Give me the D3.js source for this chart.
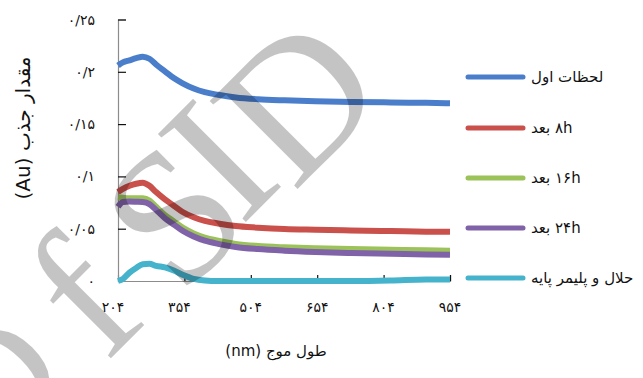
<!DOCTYPE html>
<html>
<head>
<meta charset="utf-8">
<script src="https://cdn.jsdelivr.net/npm/d3@7"></script>
<style>
  html, body { margin: 0; padding: 0; background: #fff; }
  svg { display: block; }
  .fa { font-family: "DejaVu Sans", "Noto Sans", sans-serif; }
</style>
</head>
<body>
<svg id="chart" width="643" height="378"></svg>
<script>
// Absorbance spectra (Au) against wavelength (nm)
const wavelengths = [204, 215, 230, 245, 260, 275, 290, 310, 330, 350, 375, 400, 430, 470, 520, 580, 650, 730, 820, 900, 954];

const seriesNames = ["لحظات اول", "۸h بعد", "۱۶h بعد", "۲۴h بعد", "حلال و پلیمر پایه"];
const seriesColors = ["#4a7ecb", "#c9504b", "#9cc25a", "#8062a8", "#46b3cc"];

const initial   = [0.206, 0.209, 0.211, 0.213, 0.2145, 0.2125, 0.207, 0.2005, 0.194, 0.189, 0.184, 0.1805, 0.178, 0.1755, 0.1738, 0.1727, 0.1718, 0.1712, 0.1707, 0.1703, 0.170];
const after8h   = [0.085, 0.088, 0.091, 0.093, 0.094, 0.091, 0.085, 0.078, 0.072, 0.066, 0.061, 0.0575, 0.055, 0.0525, 0.051, 0.0497, 0.049, 0.0483, 0.0477, 0.0472, 0.047];
const after16h  = [0.080, 0.0795, 0.079, 0.079, 0.079, 0.077, 0.071, 0.063, 0.057, 0.051, 0.0455, 0.0415, 0.0385, 0.0355, 0.0335, 0.0322, 0.0312, 0.0305, 0.0298, 0.0293, 0.029];
const after24h  = [0.071, 0.0755, 0.076, 0.0758, 0.0755, 0.0735, 0.068, 0.060, 0.054, 0.048, 0.0425, 0.0385, 0.0355, 0.0325, 0.0305, 0.029, 0.0278, 0.0268, 0.026, 0.0253, 0.025];
const solvent   = [0.000, 0.002, 0.008, 0.0125, 0.016, 0.0165, 0.0145, 0.013, 0.010, 0.006, 0.002, 0.0005, 0.000, 0.000, 0.000, 0.000, 0.000, 0.000, 0.0005, 0.0015, 0.0015];

const xTicks = [204, 354, 504, 654, 804, 954];
const xTickLabels = ["۲۰۴", "۳۵۴", "۵۰۴", "۶۵۴", "۸۰۴", "۹۵۴"];
const yTicks = [0, 0.05, 0.1, 0.15, 0.2, 0.25];
const yTickLabels = ["۰", "۰/۰۵", "۰/۱", "۰/۱۵", "۰/۲", "۰/۲۵"];

const xTitle = "طول موج (nm)";
const yTitle = "مقدار جذب (Au)";
const watermarkGlyphs = ["o", "f", "S", "I", "D"];

const allSeries = [initial, after8h, after16h, after24h, solvent];

const svg = d3.select("#chart");
const plot = { left: 118, right: 450, top: 19.5, bottom: 281 };

const x = d3.scaleLinear().domain([204, 954]).range([plot.left, plot.right]);
const y = d3.scaleLinear().domain([0, 0.25]).range([plot.bottom, plot.top]);

// Axes: ticks point inward
const xAxis = svg.append("g")
  .attr("transform", `translate(0,${plot.bottom})`)
  .call(d3.axisBottom(x).tickValues(xTicks).tickSize(-6).tickFormat(""));
xAxis.select(".domain").attr("stroke", "#8c8c8c").attr("stroke-width", 1.2);
xAxis.selectAll(".tick line").attr("stroke", "#111").attr("stroke-width", 1.2);
xAxis.selectAll(".tick").filter(d => d === 204).select("line").remove();

const yAxis = svg.append("g")
  .attr("transform", `translate(${plot.left},0)`)
  .call(d3.axisLeft(y).tickValues(yTicks).tickSize(-8).tickFormat(""));
yAxis.select(".domain").attr("stroke", "#8c8c8c").attr("stroke-width", 1.2);
yAxis.selectAll(".tick line").attr("stroke", "#111").attr("stroke-width", 1.2);
yAxis.selectAll(".tick").filter(d => d === 0).select("line").remove();

// Tick labels
svg.append("g").selectAll("text")
  .data(xTicks)
  .join("text")
  .attr("class", "fa")
  .attr("x", (d, i) => x(d) - (i < 2 ? 5 : 0))
  .attr("y", 312)
  .attr("text-anchor", "middle")
  .attr("font-size", 14)
  .attr("fill", "#111")
  .text((d, i) => xTickLabels[i]);

svg.append("g").selectAll("text")
  .data(yTicks)
  .join("text")
  .attr("class", "fa")
  .attr("x", 95)
  .attr("y", d => y(d) + 5)
  .attr("text-anchor", "end")
  .attr("font-size", 14)
  .attr("fill", "#111")
  .text((d, i) => yTickLabels[i]);

// Titles
svg.append("text")
  .attr("class", "fa")
  .attr("x", 276).attr("y", 356)
  .attr("text-anchor", "middle")
  .attr("direction", "rtl")
  .attr("font-size", 15)
  .attr("fill", "#111")
  .text(xTitle);

svg.append("text")
  .attr("class", "fa")
  .attr("transform", "translate(30,128) rotate(-90)")
  .attr("text-anchor", "middle")
  .attr("direction", "rtl")
  .attr("font-size", 20)
  .attr("fill", "#111")
  .text(yTitle);

// Spectra
const line = d3.line()
  .x((d, i) => x(wavelengths[i]))
  .y(d => y(d))
  .curve(d3.curveMonotoneX);

svg.append("g").selectAll("path")
  .data(allSeries)
  .join("path")
  .attr("d", line)
  .attr("fill", "none")
  .attr("stroke", (d, i) => seriesColors[i])
  .attr("stroke-width", 6)
  .attr("stroke-linejoin", "round")
  .attr("stroke-linecap", "butt");

// Legend
const legendY = [77, 128, 178, 228, 278];
const legend = svg.append("g").selectAll("g")
  .data(seriesNames)
  .join("g")
  .attr("transform", (d, i) => `translate(0,${legendY[i]})`);
legend.append("line")
  .attr("x1", 468).attr("x2", 523)
  .attr("stroke", (d, i) => seriesColors[i])
  .attr("stroke-width", 5)
  .attr("stroke-linecap", "round");
legend.append("text")
  .attr("class", "fa")
  .attr("x", 531).attr("y", 5)
  .attr("direction", "rtl")
  .attr("text-anchor", "end")
  .attr("font-size", 15)
  .attr("fill", "#111")
  .text(d => d);

// Diagonal watermark lettering, one glyph at a time
const glyphCentres = [[4, 376], [82, 296], [174, 216], [219, 160], [298, 100]];
const glyphLift = [0.23, 0.34, 0.33, 0.33, 0.33];
svg.append("g")
  .attr("font-family", "Liberation Serif, serif")
  .attr("font-size", 190)
  .attr("fill", "#000")
  .attr("fill-opacity", 0.23)
  .selectAll("text")
  .data(watermarkGlyphs)
  .join("text")
  .attr("transform", (d, i) => `translate(${glyphCentres[i][0]},${glyphCentres[i][1]}) rotate(-45)`)
  .attr("text-anchor", "middle")
  .attr("y", (d, i) => glyphLift[i] * 190)
  .text(d => d);
</script>
</body>
</html>
